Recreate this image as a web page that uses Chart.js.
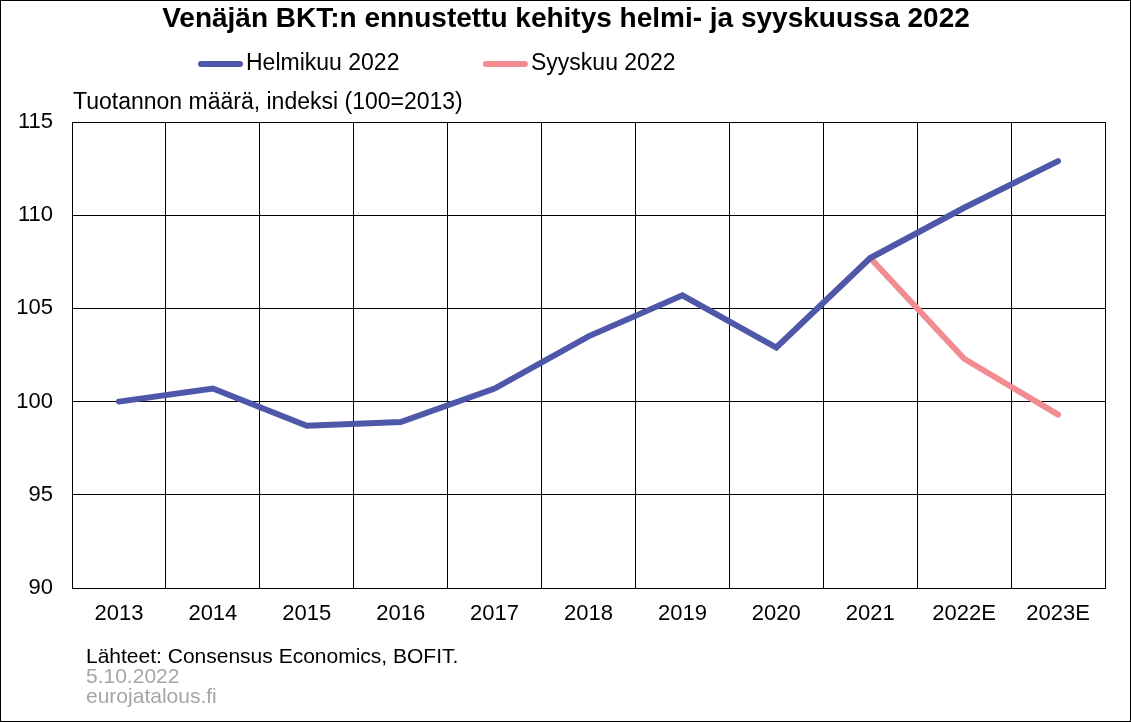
<!DOCTYPE html>
<html>
<head>
<meta charset="utf-8">
<script src="https://cdn.jsdelivr.net/npm/chart.js@4/dist/chart.umd.min.js"></script>
<style>
  body { margin: 0; background: #fff; }
  #wrap { width: 1131px; height: 722px; }
</style>
</head>
<body>
<div id="wrap"><canvas id="gdpChart" width="1131" height="722"></canvas></div>
<script>
// Data
const years = ['2013', '2014', '2015', '2016', '2017', '2018', '2019', '2020', '2021', '2022E', '2023E'];
const helmikuu = [100, 100.7, 98.7, 98.9, 100.7, 103.5, 105.7, 102.9, 107.7, 110.4, 112.9];
const syyskuu = [null, null, null, null, null, null, null, null, 107.7, 102.3, 99.3];
const yTicks = [90, 95, 100, 105, 110, 115];

const FONT = "'Liberation Sans', Arial, sans-serif";

// Title, legend, axis caption, footer and frame
const decorations = {
  id: 'decorations',
  afterDraw(chart) {
    const ctx = chart.ctx;
    ctx.save();
    ctx.fillStyle = '#000';
    ctx.textBaseline = 'middle';

    ctx.font = 'bold 28px ' + FONT;
    ctx.textAlign = 'center';
    ctx.fillText('Venäjän BKT:n ennustettu kehitys helmi- ja syyskuussa 2022', 566, 19);

    // legend
    const legendX = [198, 483];
    chart.data.datasets.forEach((ds, i) => {
      ctx.strokeStyle = ds.borderColor;
      ctx.lineWidth = 6;
      ctx.lineCap = 'round';
      ctx.beginPath();
      ctx.moveTo(legendX[i] + 3, 64);
      ctx.lineTo(legendX[i] + 42, 64);
      ctx.stroke();
      ctx.fillStyle = '#000';
      ctx.font = '23px ' + FONT;
      ctx.textAlign = 'left';
      ctx.fillText(ds.label, legendX[i] + 48, 64);
    });

    ctx.font = '23px ' + FONT;
    ctx.textAlign = 'left';
    ctx.fillText('Tuotannon määrä, indeksi (100=2013)', 73, 103);

    ctx.font = '21px ' + FONT;
    ctx.fillText('Lähteet: Consensus Economics, BOFIT.', 86, 657);
    ctx.fillStyle = '#a6a6a6';
    ctx.fillText('5.10.2022', 86, 677);
    ctx.fillText('eurojatalous.fi', 86, 697);

    ctx.strokeStyle = '#000';
    ctx.lineWidth = 1;
    ctx.strokeRect(0.5, 0.5, chart.width - 1, chart.height - 1);
    ctx.restore();
  }
};

const ctx = document.getElementById('gdpChart').getContext('2d');
new Chart(ctx, {
  type: 'line',
  data: {
    labels: years,
    datasets: [
      {
        label: 'Helmikuu 2022',
        data: helmikuu,
        borderColor: '#4f57a8',
        borderWidth: 6,
        borderCapStyle: 'round',
        pointRadius: 0,
        tension: 0
      },
      {
        label: 'Syyskuu 2022',
        data: syyskuu,
        borderColor: '#f08c92',
        borderWidth: 6,
        borderCapStyle: 'round',
        pointRadius: 0,
        tension: 0
      }
    ]
  },
  options: {
    responsive: false,
    animation: false,
    layout: {
      padding: { top: 122, left: 0, right: 26, bottom: 84 }
    },
    plugins: {
      legend: { display: false },
      tooltip: { enabled: false }
    },
    scales: {
      x: {
        offset: true,
        grid: { offset: true, color: '#000', lineWidth: 1, drawTicks: false },
        border: { color: '#000', width: 1 },
        ticks: { color: '#000', font: { family: FONT, size: 22 }, padding: 13, maxRotation: 0 },
        afterFit(scale) { scale.height = 50; }
      },
      y: {
        min: 90,
        max: 115,
        grid: { color: '#000', lineWidth: 1, drawTicks: false },
        border: { color: '#000', width: 1 },
        afterBuildTicks(scale) { scale.ticks = yTicks.map(v => ({ value: v })); },
        ticks: { color: '#000', font: { family: FONT, size: 22 }, padding: 19 },
        afterFit(scale) { scale.width = 72; }
      }
    }
  },
  plugins: [decorations]
});
</script>
</body>
</html>
